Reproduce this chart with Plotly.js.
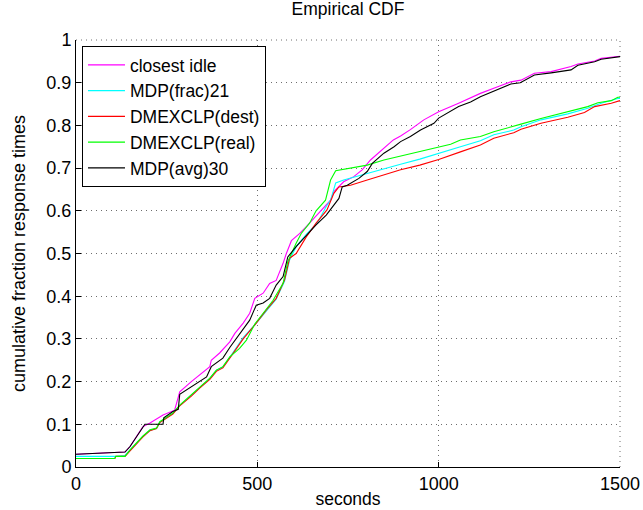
<!DOCTYPE html>
<html>
<head>
<meta charset="utf-8">
<script src="https://cdn.plot.ly/plotly-3.0.1.min.js"></script>
<style>html,body{margin:0;padding:0;background:#fff;}#chart{width:643px;height:510px;}</style>
</head>
<body>
<div id="chart"></div>
<script>
// Series names
const seriesNames = ["closest idle", "MDP(frac)21", "DMEXCLP(dest)", "DMEXCLP(real)", "MDP(avg)30"];

// closest idle (magenta)
const idleX = [0, 107, 135, 149, 184, 204, 240, 272, 286, 318, 341, 369, 373, 396, 424, 438, 461, 479, 493, 516, 534, 552, 571, 580, 594, 617, 635, 653, 674, 702, 711, 738, 766, 789, 812, 840, 858, 875, 895, 922, 959, 1000, 1055, 1083, 1115, 1161, 1199, 1227, 1264, 1310, 1365, 1384, 1430, 1448, 1500];
const idleY = [0.030, 0.033, 0.035, 0.048, 0.094, 0.103, 0.122, 0.133, 0.176, 0.200, 0.215, 0.235, 0.250, 0.267, 0.293, 0.313, 0.337, 0.360, 0.395, 0.407, 0.430, 0.437, 0.477, 0.500, 0.530, 0.547, 0.563, 0.580, 0.600, 0.625, 0.645, 0.668, 0.680, 0.696, 0.719, 0.740, 0.755, 0.766, 0.775, 0.790, 0.813, 0.832, 0.852, 0.863, 0.875, 0.890, 0.902, 0.906, 0.922, 0.926, 0.938, 0.944, 0.951, 0.957, 0.962];

// MDP(frac)21 (cyan)
const fracX = [0, 107, 110, 135, 149, 167, 184, 204, 222, 231, 267, 286, 318, 341, 369, 387, 405, 424, 461, 493, 525, 552, 575, 589, 607, 635, 665, 690, 702, 716, 738, 803, 849, 895, 948, 1000, 1060, 1115, 1152, 1207, 1227, 1282, 1356, 1411, 1448, 1494, 1500];
const fracY = [0.025, 0.025, 0.025, 0.027, 0.040, 0.055, 0.071, 0.086, 0.090, 0.105, 0.125, 0.144, 0.168, 0.187, 0.207, 0.226, 0.234, 0.257, 0.303, 0.333, 0.365, 0.393, 0.435, 0.485, 0.516, 0.545, 0.571, 0.610, 0.625, 0.665, 0.672, 0.688, 0.698, 0.709, 0.721, 0.735, 0.750, 0.764, 0.778, 0.789, 0.797, 0.813, 0.827, 0.840, 0.852, 0.863, 0.863];

// DMEXCLP(dest) (red)
const destX = [0, 107, 110, 135, 149, 167, 184, 204, 222, 231, 267, 286, 318, 341, 369, 387, 405, 424, 461, 497, 525, 552, 575, 589, 607, 635, 662, 692, 711, 725, 757, 803, 849, 895, 948, 1000, 1060, 1115, 1152, 1207, 1227, 1282, 1356, 1402, 1430, 1476, 1500];
const destY = [0.020, 0.020, 0.025, 0.025, 0.038, 0.054, 0.070, 0.085, 0.090, 0.104, 0.124, 0.143, 0.166, 0.185, 0.205, 0.224, 0.232, 0.255, 0.300, 0.337, 0.368, 0.395, 0.438, 0.489, 0.500, 0.539, 0.571, 0.602, 0.641, 0.656, 0.660, 0.672, 0.684, 0.696, 0.707, 0.720, 0.738, 0.754, 0.770, 0.783, 0.791, 0.805, 0.819, 0.830, 0.844, 0.852, 0.858];

// DMEXCLP(real) (green)
const realX = [0, 107, 110, 135, 149, 167, 184, 204, 222, 231, 267, 286, 318, 341, 369, 387, 405, 424, 451, 470, 493, 516, 543, 571, 584, 607, 621, 644, 662, 688, 702, 716, 757, 803, 849, 895, 941, 987, 1033, 1060, 1115, 1152, 1207, 1227, 1282, 1310, 1356, 1411, 1439, 1476, 1494, 1500];
const realY = [0.020, 0.020, 0.025, 0.025, 0.040, 0.056, 0.072, 0.087, 0.091, 0.106, 0.126, 0.145, 0.169, 0.188, 0.208, 0.227, 0.235, 0.258, 0.278, 0.297, 0.335, 0.360, 0.390, 0.430, 0.481, 0.524, 0.547, 0.571, 0.600, 0.625, 0.672, 0.694, 0.700, 0.707, 0.719, 0.728, 0.738, 0.746, 0.756, 0.766, 0.774, 0.785, 0.799, 0.803, 0.816, 0.822, 0.832, 0.844, 0.853, 0.858, 0.866, 0.866];

// MDP(avg)30 (black)
const avgX = [0, 107, 135, 149, 184, 190, 240, 242, 267, 282, 286, 318, 360, 373, 405, 424, 451, 479, 497, 516, 534, 552, 571, 584, 607, 635, 662, 690, 713, 725, 734, 748, 780, 803, 817, 849, 877, 895, 922, 950, 987, 1000, 1055, 1088, 1115, 1161, 1199, 1225, 1264, 1310, 1365, 1384, 1430, 1448, 1500];
const avgY = [0.030, 0.033, 0.035, 0.048, 0.094, 0.100, 0.100, 0.115, 0.130, 0.135, 0.170, 0.188, 0.211, 0.235, 0.255, 0.280, 0.310, 0.344, 0.379, 0.384, 0.395, 0.426, 0.446, 0.492, 0.516, 0.543, 0.567, 0.590, 0.615, 0.629, 0.656, 0.660, 0.676, 0.692, 0.711, 0.735, 0.750, 0.762, 0.774, 0.789, 0.805, 0.817, 0.844, 0.855, 0.867, 0.883, 0.897, 0.900, 0.918, 0.923, 0.930, 0.941, 0.949, 0.955, 0.961];

const xTicks = [0, 500, 1000, 1500];
const xTickText = ["0", "500", "1000", "1500"];
const yTicks = [0, 0.1, 0.2, 0.3, 0.4, 0.5, 0.6, 0.7, 0.8, 0.9, 1];
const yTickText = ["0", "0.1", "0.2", "0.3", "0.4", "0.5", "0.6", "0.7", "0.8", "0.9", "1"];

const colors = ["#ff00ff", "#00ffff", "#ff0000", "#00ff00", "#000000"];
const xs = [idleX, fracX, destX, realX, avgX];
const ys = [idleY, fracY, destY, realY, avgY];

const FONT = "Liberation Sans, Arial, Helvetica, sans-serif";
const GRIDCOL = "#6e6e6e";
const GRIDDASH = "1px,4px";

const traces = seriesNames.map((n, i) => ({
  type: "scatter", mode: "lines", name: n,
  x: xs[i], y: ys[i],
  line: {color: colors[i], width: 1.1}
}));

const layout = {
  width: 643, height: 510,
  margin: {l: 76, r: 23, t: 40, b: 43, pad: 0},
  paper_bgcolor: "#fff", plot_bgcolor: "#fff",
  font: {family: FONT, size: 18, color: "#000"},
  title: {text: "Empirical CDF", font: {family: FONT, size: 17.5, color: "#000"}, xref: "paper", x: 0.5, xanchor: "center", y: 0.995, yanchor: "top"},
  xaxis: {
    range: [0, 1500], tickvals: xTicks, ticktext: xTickText,
    showgrid: true, gridcolor: GRIDCOL, griddash: GRIDDASH, gridwidth: 1,
    showline: true, linecolor: "#000", linewidth: 1, mirror: false,
    ticks: "inside", ticklen: 5, tickcolor: "#000",
    zeroline: false, fixedrange: true,
    tickfont: {family: FONT, size: 18},
    title: {text: "seconds", font: {family: FONT, size: 17.5}, standoff: 0}
  },
  yaxis: {
    range: [0, 1], tickvals: yTicks, ticktext: yTickText,
    showgrid: true, gridcolor: GRIDCOL, griddash: GRIDDASH, gridwidth: 1,
    showline: true, linecolor: "#000", linewidth: 1, mirror: false,
    ticks: "inside", ticklen: 5, tickcolor: "#000",
    zeroline: false, fixedrange: true,
    tickfont: {family: FONT, size: 18},
    title: {text: "cumulative fraction response times", font: {family: FONT, size: 18}, standoff: 16}
  },
  shapes: [
    {type: "line", xref: "paper", yref: "paper", x0: 0, x1: 1, y0: 1, y1: 1, line: {color: GRIDCOL, width: 1, dash: GRIDDASH}, layer: "below"},
    {type: "line", xref: "paper", yref: "paper", x0: 1, x1: 1, y0: 0, y1: 1, line: {color: GRIDCOL, width: 1, dash: GRIDDASH}, layer: "below"}
  ],
  legend: {
    x: 0.011, y: 0.986, xanchor: "left", yanchor: "top",
    bgcolor: "#fff", bordercolor: "#000", borderwidth: 1,
    font: {family: FONT, size: 17.5}, tracegroupgap: 0, itemwidth: 37
  },
  showlegend: true
};

Plotly.newPlot("chart", traces, layout, {displayModeBar: false, staticPlot: true});
</script>
</body>
</html>
